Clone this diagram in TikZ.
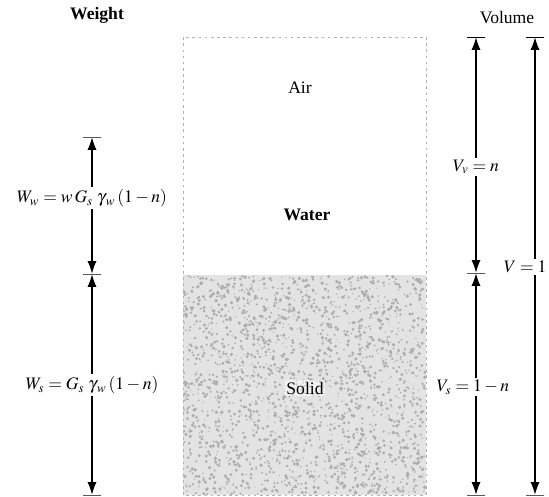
\documentclass[tikz,border=0pt]{standalone}
\usepackage{mathptmx}
\usepackage{fontspec}
\setmainfont{Liberation Serif}
\usetikzlibrary{arrows.meta, positioning}

\begin{document}
\begin{tikzpicture}[
    tick/.style={draw, minimum width=0.36cm, minimum height=0pt,
                 inner sep=0pt, thin},
    arr/.style={-{Latex[length=2.5mm, width=1.8mm]}, semithick},
    phase/.style={draw=gray!60, dash pattern=on 1.5pt off 2pt, thin},
    lbl/.style={fill=white, inner sep=1pt},
  ]
  \useasboundingbox (0,0) rectangle (10.98,9.94);

  % headings
  \node[font=\bfseries] (weight) at (1.94,9.64) {Weight};
  \node (volume) at (10.14,9.58) {Volume};

  % soil element --- air, water, solid
  \fill[gray!22] (3.66,0.04) rectangle (8.52,4.44);
  \pgfmathsetseed{42}
  \foreach \i in {1,...,2200}
    \fill[gray!65] ({3.68+4.82*rnd},{0.06+4.36*rnd}) circle ({0.012+0.024*rnd});
  \draw[phase] (3.66,0.04) rectangle (8.52,9.20);
  \node (air)   at (6.00,8.18) {Air};
  \node[font=\bfseries] (water) at (6.14,5.64) {Water};
  \node[fill=white, fill opacity=0.5, text opacity=1, inner sep=1pt]
    (solid) at (6.10,2.18) {Solid};

  % weight side
  \node[tick] (wtop) at (1.84,7.20) {};
  \node[tick] (wmid) at (1.84,4.46) {};
  \node[tick] (wbot) at (1.84,0.04) {};
  \node[lbl] (ww) at (1.84,5.98) {$W_w = w\,G_s\;\gamma{}_w\,(1-n)$};
  \node[lbl] (ws) at (1.84,2.24) {$W_s = G_s\;\gamma{}_w\,(1-n)$};
  \draw[arr] (ww) -- (wtop);
  \draw[arr] (ww) -- (wmid);
  \draw[arr] (ws) -- (wmid);
  \draw[arr] (ws) -- (wbot);

  % volume side
  \node[tick] (vtop) at (9.52,9.20) {};
  \node[tick] (vmid) at (9.52,4.48) {};
  \node[tick] (vbot) at (9.52,0.04) {};
  \node[lbl] (vv) at (9.52,6.60) {$V_v = n$};
  \node[lbl] (vs) at (9.46,2.20) {$V_s = 1-n$};
  \draw[arr] (vv) -- (vtop);
  \draw[arr] (vv) -- (vmid);
  \draw[arr] (vs.north -| vmid) -- (vmid);
  \draw[arr] (vs.south -| vbot) -- (vbot);

  \node[tick] (ttop) at (10.70,9.20) {};
  \node[tick] (tbot) at (10.70,0.04) {};
  \node[lbl, anchor=east] (vt) at (10.97,4.60) {$V = 1$};
  \draw[arr] (vt.north -| ttop) -- (ttop);
  \draw[arr] (vt.south -| tbot) -- (tbot);
\end{tikzpicture}
\end{document}
